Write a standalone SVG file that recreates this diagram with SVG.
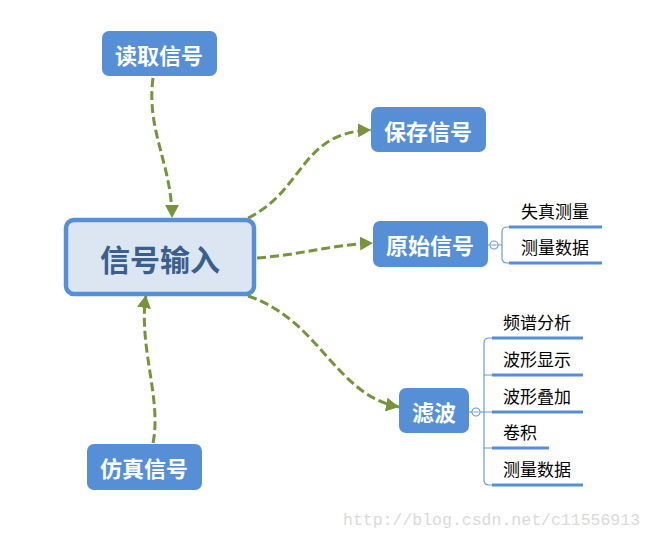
<svg xmlns="http://www.w3.org/2000/svg" width="653" height="540" viewBox="0 0 653 540">
<style>
.node{fill:#568fd6;}
.nt{font-family:"Noto Sans CJK SC","Liberation Sans",sans-serif;font-weight:bold;font-size:22px;fill:#fff;text-anchor:middle;dominant-baseline:central;}
.conn{fill:none;stroke:#77933c;stroke-width:3;stroke-dasharray:9 4;}
.br{fill:none;stroke:#6b9ad8;stroke-width:1.2;}
.ul{stroke:#568fd6;stroke-width:3;}
.lt{font-family:"Noto Sans CJK SC","Liberation Sans",sans-serif;font-size:17px;fill:#000;dominant-baseline:central;}
</style>
<defs>
<marker id="ah" markerUnits="userSpaceOnUse" markerWidth="14" markerHeight="14" refX="13" refY="7" orient="auto">
<path d="M0,0 L13,7 L0,14 z" fill="#77933c"/>
</marker>
</defs>
<rect width="653" height="540" fill="#fff"/>
<g id="connectors">
<path class="conn" marker-end="url(#ah)" d="M153,78 C146,130 172,165 172,218"/>
<path class="conn" marker-end="url(#ah)" d="M153,443 C162,400 138,345 146,295"/>
<path class="conn" marker-end="url(#ah)" d="M248,218 C305,190 300,132 371,130"/>
<path class="conn" marker-end="url(#ah)" d="M257,258 C300,255 330,245 373,243"/>
<path class="conn" marker-end="url(#ah)" d="M248,296 C320,320 335,395 399,407"/>
</g>
<g id="center">
<rect x="66" y="220" width="188" height="74" rx="8" fill="#dce6f2" stroke="#568fd6" stroke-width="4.5"/>
<text x="160" y="258" font-family="'Noto Sans CJK SC','Liberation Sans',sans-serif" font-weight="bold" font-size="30" fill="#3a5f8e" text-anchor="middle" dominant-baseline="central">信号输入</text>
</g>
<g id="n-read">
<rect class="node" x="102" y="31" width="115" height="45" rx="7"/>
<text class="nt" x="159" y="54">读取信号</text>
</g>
<g id="n-save">
<rect class="node" x="371" y="107" width="115" height="45" rx="7"/>
<text class="nt" x="428" y="130">保存信号</text>
</g>
<g id="n-raw">
<rect class="node" x="373" y="221" width="115" height="46" rx="7"/>
<text class="nt" x="430" y="244">原始信号</text>
</g>
<g id="n-filter">
<rect class="node" x="399" y="388" width="70" height="45" rx="7"/>
<text class="nt" x="434" y="411">滤波</text>
</g>
<g id="n-sim">
<rect class="node" x="87" y="444" width="115" height="46" rx="7"/>
<text class="nt" x="144" y="467">仿真信号</text>
</g>
<g id="raw-branches">
<line class="br" x1="488" y1="245" x2="490" y2="245"/>
<circle cx="494" cy="245" r="4" fill="#fff" stroke="#6b9ad8" stroke-width="1.2"/>
<line x1="491.5" y1="245" x2="496.5" y2="245" stroke="#6b9ad8" stroke-width="1"/>
<path class="br" d="M498,245 H502 M510,227 H507 Q502,227 502,232 V258 Q502,263 507,263 H510"/>
<line class="ul" x1="509" y1="227" x2="602" y2="227"/>
<line class="ul" x1="509" y1="263" x2="602" y2="263"/>
<text class="lt" x="521" y="210">失真测量</text>
<text class="lt" x="521" y="246">测量数据</text>
</g>
<g id="filter-branches">
<line class="br" x1="469" y1="412" x2="472" y2="412"/>
<circle cx="476" cy="412" r="4" fill="#fff" stroke="#6b9ad8" stroke-width="1.2"/>
<line x1="473.5" y1="412" x2="478.5" y2="412" stroke="#6b9ad8" stroke-width="1"/>
<path class="br" d="M480,412 H493 M493,338 H489 Q484,338 484,343 V480 Q484,485 489,485 H493 M484,375 H493 M484,448 H493"/>
<line class="ul" x1="492" y1="338" x2="583" y2="338"/>
<line class="ul" x1="492" y1="375" x2="583" y2="375"/>
<line class="ul" x1="492" y1="412" x2="583" y2="412"/>
<line class="ul" x1="492" y1="448" x2="549" y2="448"/>
<line class="ul" x1="492" y1="485" x2="583" y2="485"/>
<text class="lt" x="503" y="321">频谱分析</text>
<text class="lt" x="503" y="358">波形显示</text>
<text class="lt" x="503" y="395">波形叠加</text>
<text class="lt" x="503" y="431">卷积</text>
<text class="lt" x="503" y="468">测量数据</text>
</g>
<text x="343" y="525" font-family="'Liberation Mono',monospace" font-size="16.5" fill="#dadada">http://blog.csdn.net/c11556913</text>
</svg>
